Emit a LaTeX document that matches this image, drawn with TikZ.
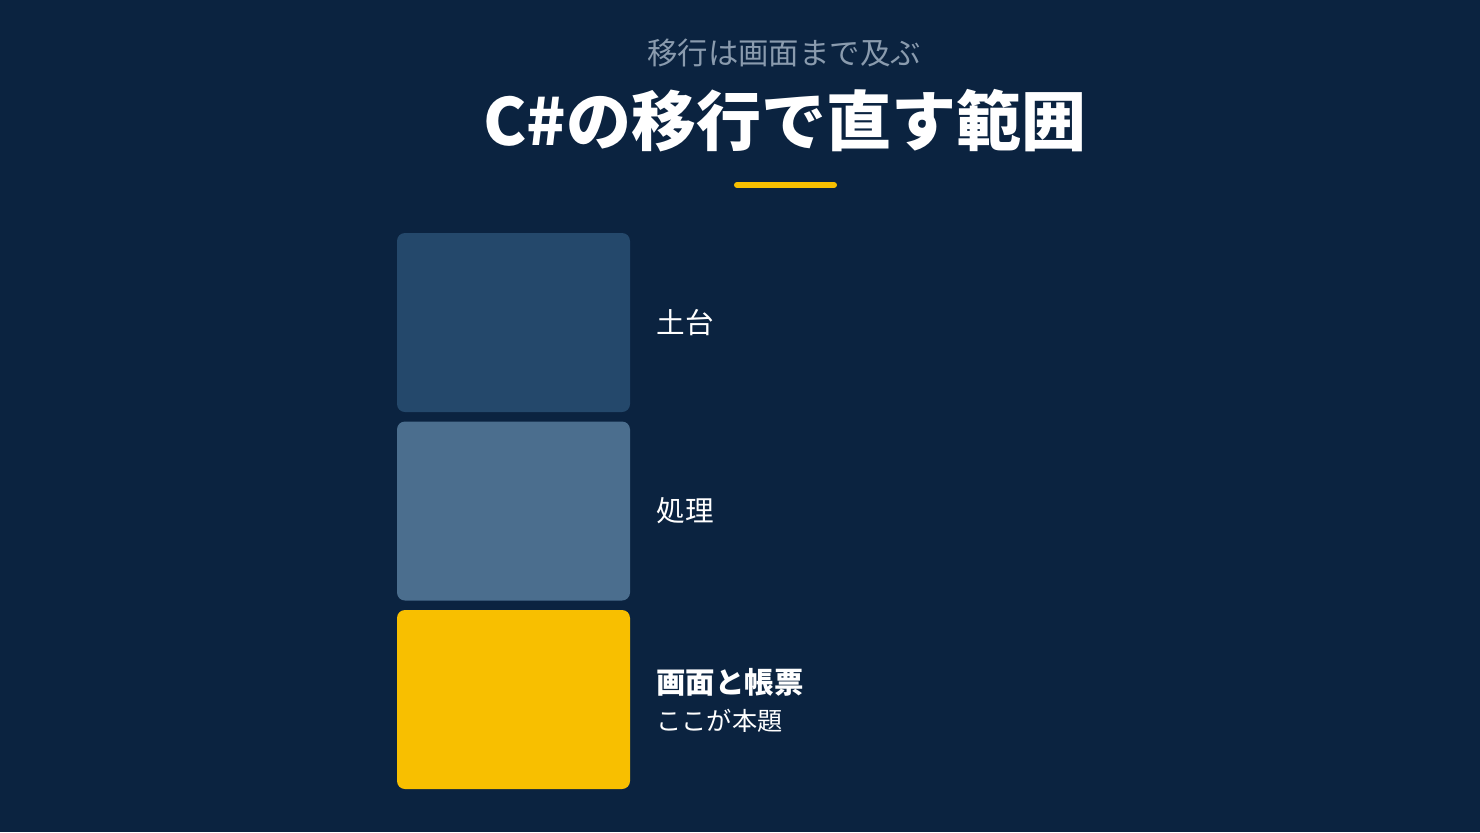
\documentclass[tikz,border=0pt]{standalone}
\usepackage{tikz}
\usepackage{xcolor}
\usepackage{fontspec}
\setmainfont{Noto Sans CJK JP}

\definecolor{bgnavy}{HTML}{0B2340}
\definecolor{layerdark}{HTML}{24486B}
\definecolor{layermid}{HTML}{4B6E8E}
\definecolor{layergold}{HTML}{F8BF00}
\definecolor{subgray}{HTML}{8A9BAE}

\tikzset{
  layer/.style={rounded corners=4pt, minimum width=116.5pt, minimum height=89.5pt, inner sep=0pt},
  layerlabel/.style={anchor=west, text=white, inner sep=0pt, font=\fontsize{14.3}{16}\selectfont}
}

\begin{document}
\begin{tikzpicture}[x=0.5pt,y=-0.5pt]
 \fill[bgnavy] (0,0) rectangle (1480,832);
 \useasboundingbox (0,0) rectangle (1480,832);
 \node[text=subgray, font=\fontsize{15.2}{17}\selectfont] (subtitle) at (784,53) {移行は画面まで及ぶ};
 \node[text=white, font=\fontsize{32.5}{36}\selectfont\bfseries] (title) at (785,121) {C\#の移行で直す範囲};
 \coordinate (ulleft) at (737,185);
 \coordinate (ulright) at (834,185);
 \draw[layergold, line width=3pt, line cap=round] (ulleft) -- (ulright);
 \node[layer, fill=layerdark] (base) at (513.5,322.5) {};
 \node[layer, fill=layermid] (logic) at (513.5,511) {};
 \node[layer, fill=layergold] (screen) at (513.5,699.5) {};
 \node[layerlabel] (baselabel) at (656,323) {土台};
 \node[layerlabel] (logiclabel) at (656,511) {処理};
 \node[layerlabel, font=\fontsize{14.7}{16}\selectfont\bfseries] (screenlabel) at (656,682) {画面と帳票};
 \node[layerlabel, font=\fontsize{12.6}{15}\selectfont] (screennote) at (656,721) {ここが本題};
\end{tikzpicture}
\end{document}
